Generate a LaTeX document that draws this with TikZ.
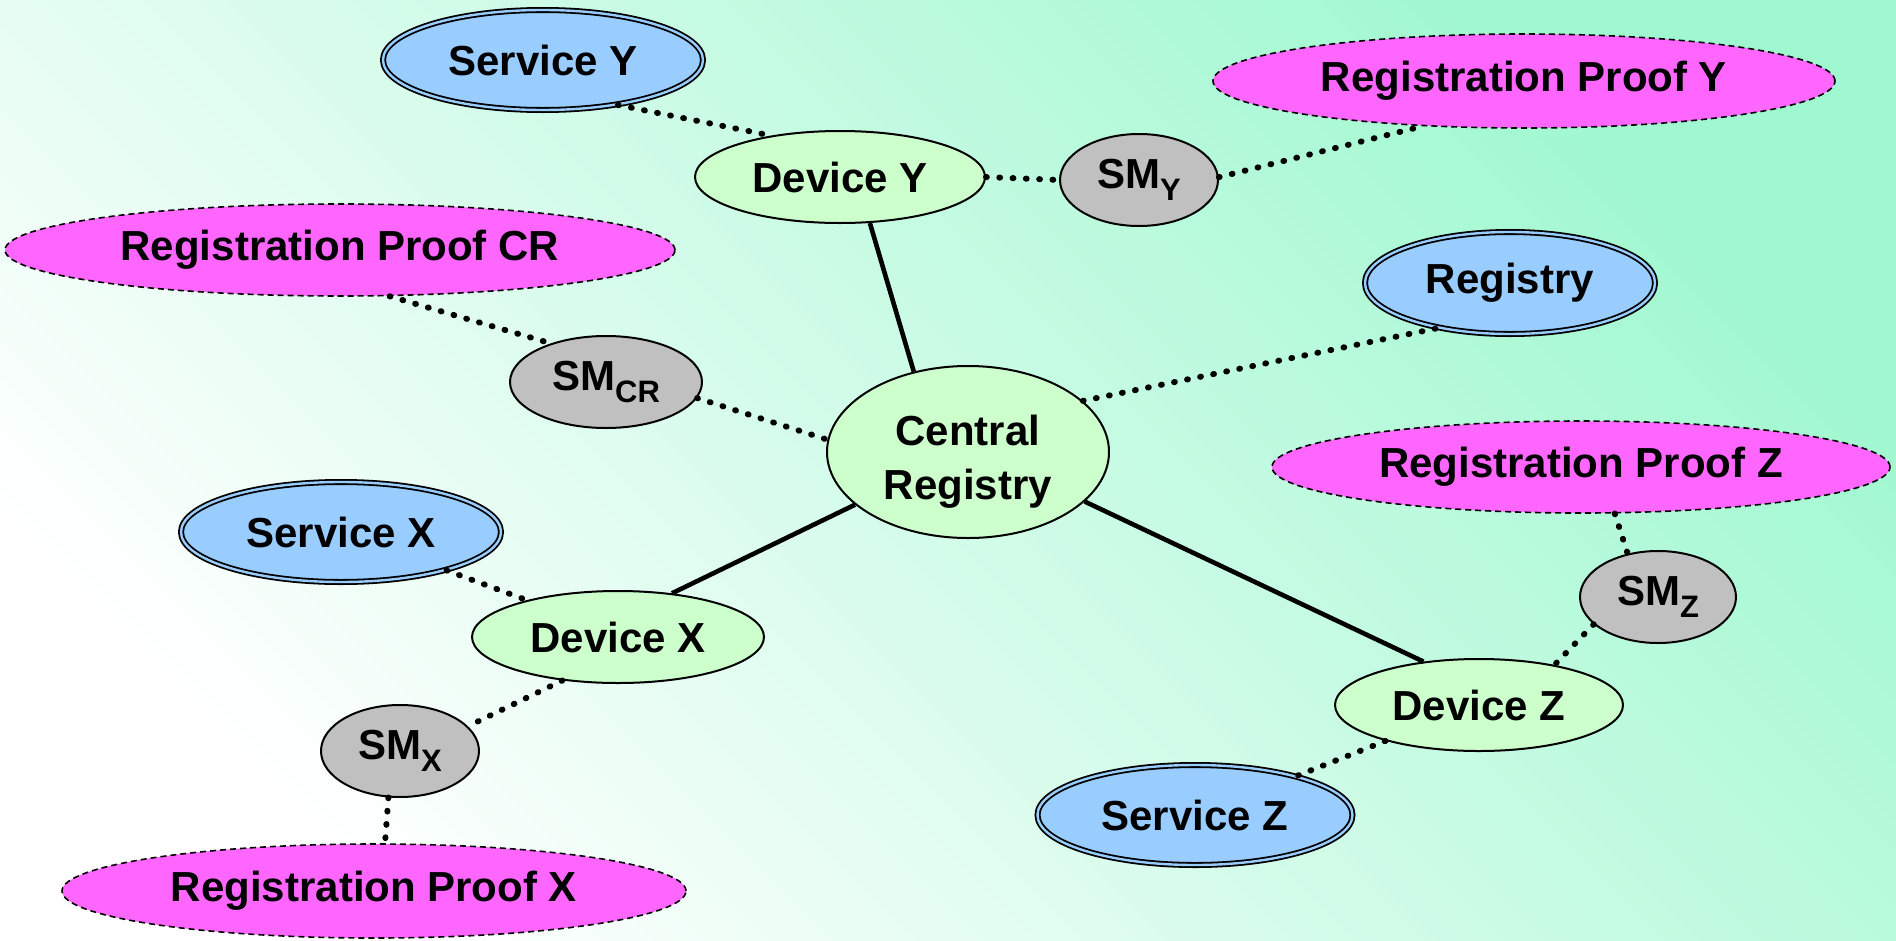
\documentclass[tikz,border=0pt]{standalone}
\usepackage{fontspec}
\setmainfont{Liberation Sans}
\usetikzlibrary{shapes.geometric}
\definecolor{mint}{HTML}{A0F8D0}
\definecolor{svcblue}{HTML}{99CCFF}
\definecolor{proofpink}{HTML}{FF66FF}
\definecolor{devgreen}{HTML}{CCFFCC}
\definecolor{smgray}{HTML}{C0C0C0}
\newcommand\subtxt[1]{\raisebox{-0.3em}{\fontsize{31}{31}\selectfont #1}}

\begin{document}
\begin{tikzpicture}[x=1pt,y=-1pt,
  base/.style={ellipse, inner sep=0pt, align=center, text=black,
    font=\fontsize{42}{54}\selectfont\bfseries},
  service/.style={base, fill=svcblue, draw=black, line width=1.8pt,
    double=svcblue, double distance=2.4pt},
  device/.style={base, fill=devgreen, draw=black, line width=2pt},
  secmod/.style={base, fill=smgray, draw=black, line width=2pt},
  proof/.style={base, fill=proofpink, draw=black, line width=1.6pt,
    dash pattern=on 6pt off 4pt},
  link/.style={line width=4.6pt},
  dotlink/.style={line width=6pt, line cap=round, dash pattern=on 0.8pt off 12.5pt},
]
% background
\shade[shading=axis, bottom color=white, top color=mint, shading angle=-45]
  (0,0) rectangle (1896,940);
\useasboundingbox (0,0) rectangle (1896,940);

% top group
\node[service, minimum width=320pt, minimum height=100pt] (sy) at (543,60) {Service Y};
\node[device, minimum width=290pt, minimum height=92pt] (dy) at (840,177) {Device Y};
\node[secmod, minimum width=158pt, minimum height=92pt] (smy) at (1139,180) {SM\subtxt{Y}};
\node[proof, minimum width=622pt, minimum height=94pt] (rpy) at (1524,81) {Registration Proof Y};

% central registry
\node[service, minimum width=290pt, minimum height=102pt] (reg) at (1510,283) {Registry};
\node[proof, minimum width=670pt, minimum height=92pt] (rpcr) at (340,250) {Registration Proof CR};
\node[secmod, minimum width=192pt, minimum height=92pt] (smcr) at (606,382) {SM\subtxt{CR}};
\node[device, minimum width=282pt, minimum height=172pt] (cr) at (968,452)
  {\raisebox{-10pt}[\height][\depth]{\begin{tabular}{@{}c@{}}Central\\Registry\end{tabular}}};

% right group
\node[proof, minimum width=618pt, minimum height=92pt] (rpz) at (1581,467) {Registration Proof Z};
\node[secmod, minimum width=156pt, minimum height=92pt] (smz) at (1658,597) {SM\subtxt{Z}};
\node[device, minimum width=288pt, minimum height=92pt] (dz) at (1479,705) {Device Z};
\node[service, minimum width=315pt, minimum height=100pt] (sz) at (1195,815) {Service Z};

% left group
\node[service, minimum width=320pt, minimum height=100pt] (sx) at (341,532) {Service X};
\node[device, minimum width=292pt, minimum height=92pt] (dx) at (618,637) {Device X};
\node[secmod, minimum width=158pt, minimum height=92pt] (smx) at (400,751) {SM\subtxt{X}};
\node[proof, minimum width=624pt, minimum height=94pt] (rpx) at (374,891) {Registration Proof X};

% solid links to the central registry
\draw[link] (dy.-57) -- (cr.124);
\draw[link] (cr.-155) -- (dx.39);
\draw[link] (cr.-23) -- (dz.142);

% dotted links
\draw[dotlink] (sy.-31) -- (dy.149);
\draw[dotlink] (dy.0) -- (smy.180);
\draw[dotlink] (smy.2) -- (rpy.-156);
\draw[dotlink] (rpcr.-43) -- (smcr.145);
\draw[dotlink] (smcr.-10) -- (cr.175);
\draw[dotlink] (cr.24) -- (reg.-148);
\draw[dotlink] (sx.-20) -- (dx.158);
\draw[dotlink] (dx.-142) -- (smx.20);
\draw[dotlink] (smx.-104) -- (rpx.77);
\draw[dotlink] (rpz.-54) -- (smz.125);
\draw[dotlink] (smz.-157) -- (dz.28);
\draw[dotlink] (dz.-159) -- (sz.21);
\end{tikzpicture}
\end{document}
